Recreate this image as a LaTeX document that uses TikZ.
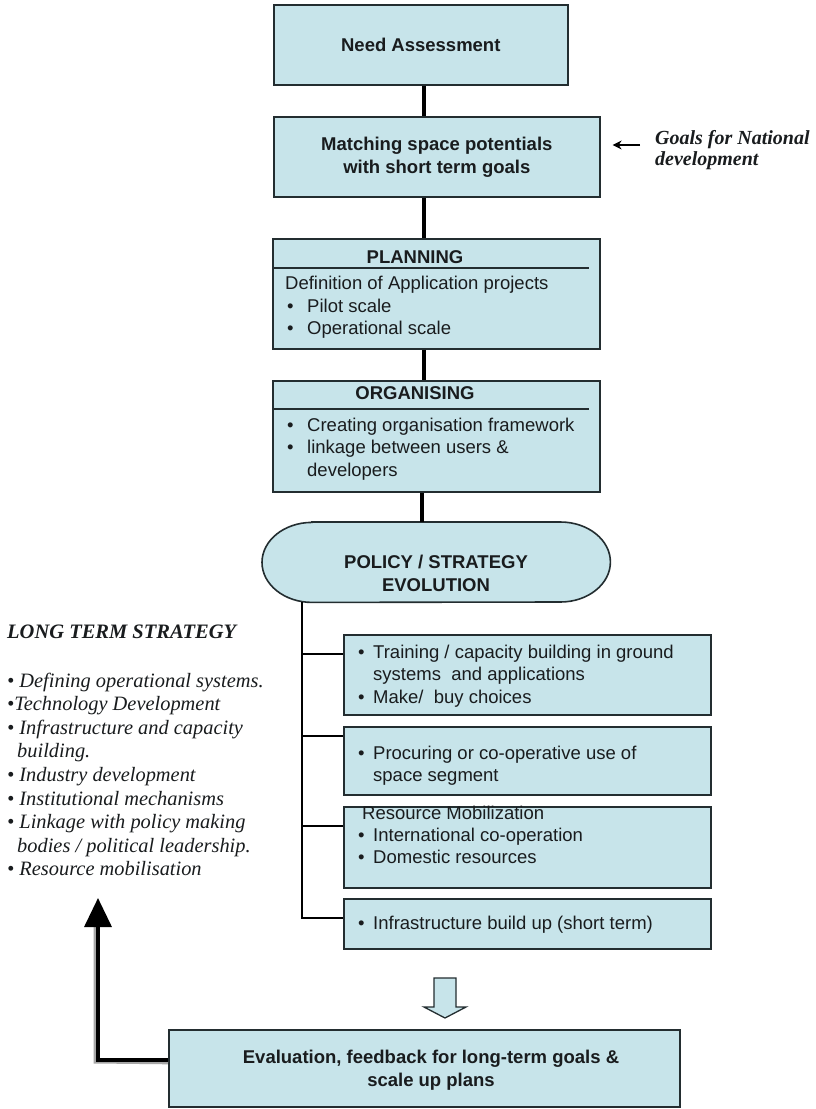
\documentclass[tikz,border=0pt]{standalone}
\usepackage{fontspec}
\setmainfont{Liberation Sans}
\newfontfamily\seriffont{Liberation Serif}
\usetikzlibrary{arrows.meta}
\definecolor{boxfill}{RGB}{199,228,234}
\definecolor{boxline}{RGB}{35,45,48}
\definecolor{txtcol}{RGB}{25,28,30}
\begin{document}
\begin{tikzpicture}[x=1pt,y=-1pt,
  box/.style={draw=boxline, line width=1.6pt, fill=boxfill, inner sep=0pt, anchor=north west},
  link/.style={line width=3.6pt, black},
  branch/.style={line width=1.8pt, black},
  btxt/.style={inner sep=0pt, anchor=base west, text=txtcol, font=\fontsize{18.5}{22}\selectfont},
  ttl/.style={inner sep=0pt, text=txtcol, align=center, font=\bfseries\fontsize{18.5}{23}\selectfont},
  lts/.style={inner sep=0pt, anchor=base west, text=txtcol, font=\seriffont\itshape\fontsize{20.4}{23.6}\selectfont},
  goal/.style={inner sep=0pt, anchor=base west, text=txtcol, font=\seriffont\bfseries\itshape\fontsize{20}{21}\selectfont}
]
\useasboundingbox (0,0) rectangle (816,1109);
\fill[white] (0,0) rectangle (816,1109);

% main column
\node[box, minimum width=294pt, minimum height=80pt] (need) at (273,4) {};
\node[ttl] (needt) at (need.center) {Need Assessment};
\node[box, minimum width=326pt, minimum height=80pt] (match) at (273,116) {};
\node[ttl] (matcht) at (match.center) {Matching space potentials\\with short term goals};

\node[box, minimum width=327pt, minimum height=110pt] (plan) at (272,238) {};
\draw[boxline, line width=1.6pt] ([yshift=-30pt]plan.north west) -- ++(317,0);
\node[ttl] (plant) at (415,257) {PLANNING};
\node[btxt] (p1) at (285,289.5) {Definition of Application projects};
\node[btxt] (p2b) at (287,312.5) {•};
\node[btxt] (p2) at (307,312.5) {Pilot scale};
\node[btxt] (p3b) at (287,334.5) {•};
\node[btxt] (p3) at (307,334.5) {Operational scale};

\node[box, minimum width=327pt, minimum height=111pt] (org) at (272,380) {};
\draw[boxline, line width=1.6pt] ([yshift=-29pt]org.north west) -- ++(317,0);
\node[ttl] (orgt) at (415,393) {ORGANISING};
\node[btxt] (o1b) at (287,431.5) {•};
\node[btxt] (o1) at (307,431.5) {Creating organisation framework};
\node[btxt] (o2b) at (287,453.5) {•};
\node[btxt] (o2) at (307,453.5) {linkage between users \&};
\node[btxt] (o3) at (307,476.5) {developers};

% policy / strategy (stadium with elliptical ends)
\node[inner sep=0pt, minimum width=348pt, minimum height=80pt, anchor=north west] (pol) at (262,522) {};
\draw[draw=boxline, line width=1.6pt, fill=boxfill]
  ([xshift=50pt]pol.north west) -- ([xshift=-50pt]pol.north east)
  arc[start angle=-90, end angle=90, x radius=50, y radius=40]
  -- ([xshift=50pt]pol.south west)
  arc[start angle=90, end angle=270, x radius=50, y radius=40] -- cycle;
\node[ttl] (polt) at (436,573) {POLICY / STRATEGY\\EVOLUTION};

\coordinate (spine) at (424,0);
\draw[link] (need.south -| spine) -- (match.north -| spine);
\draw[link] (match.south -| spine) -- (plan.north -| spine);
\draw[link] (plan.south -| spine) -- (org.north -| spine);
\draw[link] ([xshift=-2pt]org.south -| spine) -- ([xshift=-2pt]pol.north -| spine);

% goals
\node[goal] (g1) at (655,144) {Goals for National};
\node[goal] (g2) at (655,165) {development};
\coordinate (gtail) at (640,145);
\draw[line width=1.6pt, -{Stealth[length=9pt,width=9pt]}] (gtail) -- ([xshift=12pt]gtail -| match.east);

% right boxes
\node[box, minimum width=367pt, minimum height=80pt] (r1) at (343,634) {};
\node[btxt] (r1b) at (358,658.5) {•};
\node[btxt] (r1a) at (373,658.5) {Training / capacity building in ground};
\node[btxt] (r1c) at (373,680) {systems\ \ and applications};
\node[btxt] (r1db) at (358,703.5) {•};
\node[btxt] (r1d) at (373,703.5) {Make/\ \ buy choices};

\node[box, minimum width=367pt, minimum height=68pt] (r2) at (343,726) {};
\node[btxt] (r2b) at (358,759.5) {•};
\node[btxt] (r2a) at (373,759.5) {Procuring or co-operative use of};
\node[btxt] (r2c) at (373,781.5) {space segment};

\node[box, minimum width=367pt, minimum height=81pt] (r3) at (343,806) {};
\node[btxt] (r3t) at (362,819.5) {Resource Mobilization};
\node[btxt] (r3b1) at (358,841.5) {•};
\node[btxt] (r3a) at (373,841.5) {International co-operation};
\node[btxt] (r3b2) at (358,863.5) {•};
\node[btxt] (r3c) at (373,863.5) {Domestic resources};

\node[box, minimum width=367pt, minimum height=50pt] (r4) at (343,898) {};
\node[btxt] (r4b) at (358,929.5) {•};
\node[btxt] (r4a) at (373,929.5) {Infrastructure build up (short term)};

\coordinate (trunk) at (302,0);
\draw[branch] (pol.south -| trunk) |- ([yshift=6pt]r4.west);
\draw[branch] ([yshift=21pt]r1.west -| trunk) -- ([yshift=21pt]r1.west);
\draw[branch] ([yshift=25pt]r2.west -| trunk) -- ([yshift=25pt]r2.west);
\draw[branch] ([yshift=21.5pt]r3.west -| trunk) -- ([yshift=21.5pt]r3.west);

% down block arrow
\draw[draw=boxline, line width=1.3pt, fill=boxfill, line join=miter]
  (434,978) -- (456,978) -- (456,1007) -- (466,1007) -- (445,1018) -- (424,1007) -- (434,1007) -- cycle;

% evaluation
\node[box, minimum width=511pt, minimum height=77pt] (eval) at (168,1029) {};
\node[ttl] (evalt) at (431,1070) {Evaluation, feedback for long-term goals \&\\scale up plans};

% long term strategy
\node[inner sep=0pt, anchor=base west, text=txtcol, font=\seriffont\bfseries\itshape\fontsize{20.5}{24}\selectfont] (ltt) at (7,638) {LONG TERM STRATEGY};
\node[lts] (l1) at (7,687) {• Defining operational systems.};
\node[lts] (l2) at (7,710.6) {•Technology Development};
\node[lts] (l3) at (7,734.2) {• Infrastructure and capacity};
\node[lts] (l4) at (17,757.8) {building.};
\node[lts] (l5) at (7,781.4) {• Industry development};
\node[lts] (l6) at (7,805) {• Institutional mechanisms};
\node[lts] (l7) at (7,828.6) {• Linkage with policy making};
\node[lts] (l8) at (17,852.2) {bodies / political leadership.};
\node[lts] (l9) at (7,875.8) {• Resource mobilisation};

% feedback arrow
\coordinate (fbtip) at (98,898);
\draw[gray!70, line width=3pt] ([yshift=5.5pt]eval.west) -- (95,1062) -- (95,926);
\draw[black, line width=3.5pt, -{Triangle[length=29pt,width=27pt]}] ([yshift=8.5pt]eval.west) -| (fbtip);
\end{tikzpicture}
\end{document}
